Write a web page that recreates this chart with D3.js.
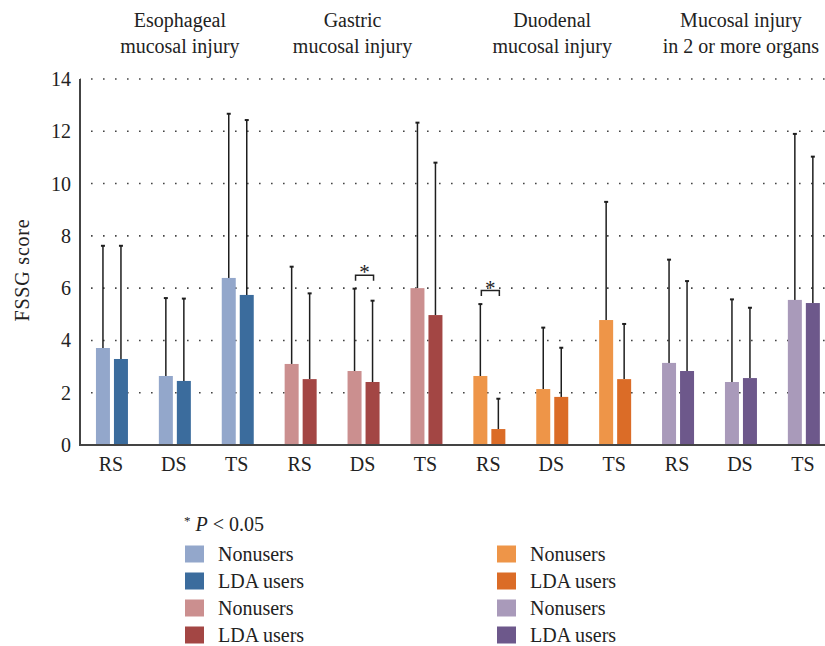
<!DOCTYPE html>
<html>
<head>
<meta charset="utf-8">
<script src="https://cdn.jsdelivr.net/npm/d3@7"></script>
<style>
  html, body { margin: 0; padding: 0; background: #fff; }
  svg { display: block; font-family: "Liberation Serif", "DejaVu Serif", serif; }
</style>
</head>
<body>
<div id="chart"></div>
<script>
// ── Data ─────────────────────────────────────────────────────────────────────

const groups   = ["Esophageal", "Gastric", "Duodenal", "Multiple"];
const titles   = [
  ["Esophageal", "mucosal injury"],
  ["Gastric", "mucosal injury"],
  ["Duodenal", "mucosal injury"],
  ["Mucosal injury", "in 2 or more organs"]
];
const scales   = ["RS", "DS", "TS"];

// mean FSSG score, per group, per scale (RS, DS, TS)
const nonusersMean = [
  [3.71, 2.64, 6.39],
  [3.10, 2.83, 6.00],
  [2.64, 2.14, 4.78],
  [3.14, 2.41, 5.55]
];
const ldaMean = [
  [3.29, 2.45, 5.74],
  [2.52, 2.41, 4.97],
  [0.61, 1.84, 2.52],
  [2.83, 2.56, 5.43]
];
// upper end of the error bar (mean + SD)
const nonusersUpper = [
  [7.62, 5.62, 12.67],
  [6.82, 5.98, 12.33],
  [5.39, 4.49, 9.30],
  [7.09, 5.57, 11.90]
];
const ldaUpper = [
  [7.62, 5.60, 12.43],
  [5.80, 5.52, 10.80],
  [1.77, 3.72, 4.63],
  [6.27, 5.25, 11.03]
];
// significant pairs: [group index, scale index]
const significant = [[1, 1], [2, 0]];

const yTicks = [0, 2, 4, 6, 8, 10, 12, 14];

const colorsNonusers = ["#93a7cb", "#cb8f8f", "#ee9548", "#a99aba"];
const colorsLda      = ["#3b6c9d", "#a34644", "#db6c27", "#6d588b"];

// ── Layout ───────────────────────────────────────────────────────────────────

const W = 825, H = 646;
const M = { left: 80, top: 79, bottom: 201 };
const titleDx = [5, -11, 0, 0];
const FS = 20;

const svg = d3.select("#chart").append("svg")
  .attr("width", W).attr("height", H);

const y = d3.scaleLinear().domain([0, 14]).range([H - M.bottom, M.top]);

const slots = [];
groups.forEach((g, gi) => scales.forEach((s, si) => slots.push(gi + "-" + si)));

const x = d3.scaleBand().domain(slots).range([80.5, 80.5 + 12 * 62.9]).padding(0);
const barW = 14, barGap = 2;

// gridlines
svg.append("g")
  .selectAll("line")
  .data(yTicks.filter(d => d > 0))
  .join("line")
  .attr("x1", M.left).attr("x2", W)
  .attr("y1", d => y(d)).attr("y2", d => y(d))
  .attr("stroke", "#444")
  .attr("stroke-width", 1.6)
  .attr("stroke-dasharray", "1.6 10.4")
  .attr("stroke-dashoffset", -11);

// y axis labels
svg.append("g")
  .selectAll("text")
  .data(yTicks)
  .join("text")
  .attr("x", 71)
  .attr("y", d => y(d) + 7)
  .attr("text-anchor", "end")
  .attr("font-size", FS)
  .attr("fill", "#222")
  .text(d => d);

svg.append("text")
  .attr("transform", `translate(29,${(y(0) + y(14)) / 2 + 8}) rotate(-90)`)
  .attr("text-anchor", "middle")
  .attr("font-size", FS)
  .attr("letter-spacing", 0.8)
  .attr("fill", "#222")
  .text("FSSG score");

// bars + error bars
const bars = [];
groups.forEach((g, gi) => scales.forEach((s, si) => {
  const key = gi + "-" + si;
  const c = x(key) + x.bandwidth() / 2;
  bars.push({ x0: c - barGap - barW, v: nonusersMean[gi][si], up: nonusersUpper[gi][si], color: colorsNonusers[gi] });
  bars.push({ x0: c + barGap,        v: ldaMean[gi][si],      up: ldaUpper[gi][si],      color: colorsLda[gi] });
}));

const bg = svg.append("g");
bg.selectAll("line.err")
  .data(bars)
  .join("line")
  .attr("class", "err")
  .attr("x1", d => d.x0 + barW / 2).attr("x2", d => d.x0 + barW / 2)
  .attr("y1", d => y(d.v)).attr("y2", d => y(d.up))
  .attr("stroke", "#1e1e1e").attr("stroke-width", 1.5);
bg.selectAll("line.cap")
  .data(bars)
  .join("line")
  .attr("class", "cap")
  .attr("x1", d => d.x0 + barW / 2 - 2).attr("x2", d => d.x0 + barW / 2 + 2)
  .attr("y1", d => y(d.up)).attr("y2", d => y(d.up))
  .attr("stroke", "#1e1e1e").attr("stroke-width", 2);
bg.selectAll("rect")
  .data(bars)
  .join("rect")
  .attr("x", d => d.x0)
  .attr("y", d => y(d.v))
  .attr("width", barW)
  .attr("height", d => y(0) - y(d.v))
  .attr("fill", d => d.color);

// significance brackets
significant.forEach(([gi, si]) => {
  const c = x(gi + "-" + si) + x.bandwidth() / 2;
  const top = Math.max(nonusersUpper[gi][si], ldaUpper[gi][si]);
  const yb = y(top) - 8, yt = yb - 5.5;
  const xl = c - barGap - barW / 2 + 1, xr = c + barGap + barW / 2 + 1;
  svg.append("path")
    .attr("d", `M${xl},${yb}V${yt}H${xr}V${yb}`)
    .attr("fill", "none").attr("stroke", "#222").attr("stroke-width", 1.5);
  svg.append("text")
    .attr("x", (xl + xr) / 2).attr("y", yt + 4)
    .attr("text-anchor", "middle")
    .attr("font-size", 21).attr("fill", "#222")
    .text("*");
});

// axes lines
svg.append("line")
  .attr("x1", M.left).attr("x2", M.left)
  .attr("y1", y(14)).attr("y2", y(0))
  .attr("stroke", "#444").attr("stroke-width", 2);
svg.append("line")
  .attr("x1", M.left - 1).attr("x2", W)
  .attr("y1", y(0)).attr("y2", y(0))
  .attr("stroke", "#444").attr("stroke-width", 2);

// x labels
svg.append("g")
  .selectAll("text")
  .data(slots)
  .join("text")
  .attr("x", d => x(d) + x.bandwidth() / 2 - 1)
  .attr("y", 471)
  .attr("text-anchor", "middle")
  .attr("font-size", FS)
  .attr("fill", "#222")
  .text(d => scales[+d.split("-")[1]]);

// group titles
titles.forEach((t, gi) => {
  const c0 = x(gi + "-0") + x.bandwidth() / 2;
  const c2 = x(gi + "-2") + x.bandwidth() / 2;
  const tx = (c0 + c2) / 2 + titleDx[gi];
  const txt = svg.append("text")
    .attr("text-anchor", "middle")
    .attr("font-size", FS)
    .attr("fill", "#222");
  txt.append("tspan").attr("x", tx).attr("y", 27).text(t[0]);
  txt.append("tspan").attr("x", tx).attr("y", 53).text(t[1]);
});

// ── Legend ───────────────────────────────────────────────────────────────────

const note = svg.append("text")
  .attr("x", 184).attr("y", 531)
  .attr("font-size", FS).attr("fill", "#222");
note.append("tspan").attr("font-size", 13).attr("dy", -6).text("*");
note.append("tspan").attr("dy", 6).attr("font-style", "italic").text(" P");
note.append("tspan").text(" < 0.05");

const legendItems = [];
[0, 1].forEach(gi => {
  legendItems.push({ col: 0, row: gi * 2,     color: colorsNonusers[gi], label: "Nonusers" });
  legendItems.push({ col: 0, row: gi * 2 + 1, color: colorsLda[gi],      label: "LDA users" });
});
[2, 3].forEach(gi => {
  legendItems.push({ col: 1, row: (gi - 2) * 2,     color: colorsNonusers[gi], label: "Nonusers" });
  legendItems.push({ col: 1, row: (gi - 2) * 2 + 1, color: colorsLda[gi],      label: "LDA users" });
});

const colX = [185, 497], rowY0 = 554, rowStep = 27;
const lg = svg.append("g").selectAll("g")
  .data(legendItems)
  .join("g")
  .attr("transform", d => `translate(${colX[d.col]},${rowY0 + d.row * rowStep})`);
lg.append("rect")
  .attr("x", 0).attr("y", -8.5)
  .attr("width", 19).attr("height", 17)
  .attr("fill", d => d.color);
lg.append("text")
  .attr("x", 33).attr("y", 7)
  .attr("font-size", FS).attr("fill", "#222")
  .text(d => d.label);
</script>
</body>
</html>
